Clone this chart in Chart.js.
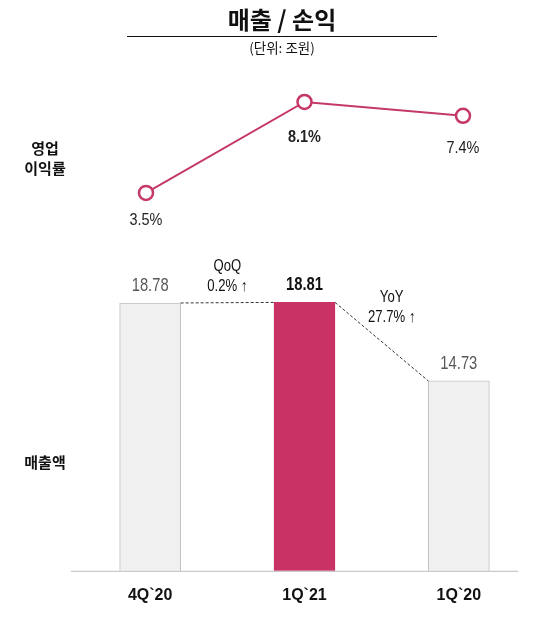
<!DOCTYPE html>
<html>
<head>
<meta charset="utf-8">
<script src="https://cdn.jsdelivr.net/npm/chart.js@4/dist/chart.umd.min.js"></script>
<style>
    body { margin: 0; background: #fff; }
    #wrap { position: relative; width: 540px; height: 624px; overflow: hidden; }
    #chart { position: absolute; left: 0; top: 0; }
    .txt { position: absolute; font-family: "Noto Sans CJK KR", sans-serif; color: #111; white-space: nowrap; }
    #title { left: 0; width: 564px; top: 2px; text-align: center; font-size: 24px; font-weight: 700; line-height: 34px; }
    #rule { position: absolute; left: 127px; top: 36px; width: 310px; height: 0; border-top: 1.5px solid #111; }
    #unit { left: 0; width: 564px; top: 38px; text-align: center; font-size: 13.5px; line-height: 18px; }
    .side { font-size: 15px; font-weight: 700; line-height: 20px; text-align: center; width: 90px; }
</style>
</head>
<body>
<div id="wrap">
    <canvas id="chart" width="540" height="624"></canvas>
    <div class="txt" id="title">매출 / 손익</div>
    <div id="rule"></div>
    <div class="txt" id="unit">(단위: 조원)</div>
    <div class="txt side" style="left:0px; top:138px;">영업<br>이익률</div>
    <div class="txt side" style="left:0px; top:452px;">매출액</div>
</div>
<script>
// data
const categories = ['4Q`20', '1Q`21', '1Q`20'];
const sales = [18.78, 18.81, 14.73];          // 조원
const margins = [3.5, 8.1, 7.4];              // %
const salesLabels = ['18.78', '18.81', '14.73'];
const marginLabels = ['3.5%', '8.1%', '7.4%'];
const highlight = 1;                          // current quarter
const changeNotes = [['QoQ', '0.2% ↑'], ['YoY', '27.7% ↑']];

const numFont = '"Liberation Sans", Arial, sans-serif';
const magenta = '#C83264';
const lineColor = '#C5386A';

// gap under each margin point for its label
const marginGap = [27, 35, 33];

// the source uses a narrow face, squeeze the text a bit
function narrowText(ctx, text, x, y, sx) {
    ctx.save();
    ctx.translate(x, y);
    ctx.scale(sx, 1);
    ctx.fillText(text, 0, 0);
    ctx.restore();
}

const overlay = {
    id: 'overlay',
    afterDatasetsDraw(chart) {
        const ctx = chart.ctx;
        const area = chart.chartArea;
        const bars = chart.getDatasetMeta(0).data;
        const pts = chart.getDatasetMeta(1).data;
        ctx.save();

        // base axis line
        ctx.strokeStyle = '#BDBDBD';
        ctx.lineWidth = 1;
        ctx.beginPath();
        ctx.moveTo(area.left - 2, area.bottom + 0.5);
        ctx.lineTo(area.right - 18, area.bottom + 0.5);
        ctx.stroke();

        // bar value labels
        ctx.textAlign = 'center';
        ctx.textBaseline = 'middle';
        bars.forEach((b, i) => {
            ctx.font = (i === highlight ? 'bold ' : '') + '18px ' + numFont;
            ctx.fillStyle = i === highlight ? '#111' : '#595959';
            narrowText(ctx, salesLabels[i], b.x, b.y - 17, 0.82);
        });

        // margin labels
        pts.forEach((p, i) => {
            ctx.font = (i === highlight ? 'bold ' : '') + '17px ' + numFont;
            ctx.fillStyle = '#222';
            narrowText(ctx, marginLabels[i], p.x, p.y + marginGap[i], 0.85);
        });

        // dashed connectors between bar tops
        ctx.strokeStyle = '#333';
        ctx.setLineDash([3, 2]);
        for (let i = 0; i < bars.length - 1; i++) {
            const a = bars[i], b = bars[i + 1];
            ctx.beginPath();
            ctx.moveTo(a.x + a.width / 2, a.y);
            ctx.lineTo(b.x - b.width / 2, b.y);
            ctx.stroke();
        }
        ctx.setLineDash([]);

        // QoQ / YoY notes
        ctx.font = '16px ' + numFont;
        ctx.fillStyle = '#111';
        changeNotes.forEach((n, i) => {
            const a = bars[i], b = bars[i + 1];
            const mx = (a.x + b.x) / 2 + (i === 0 ? 0 : 10);
            const top = Math.min(a.y, b.y) + (i === 0 ? -36 : -5);
            narrowText(ctx, n[0], mx, top, 0.82);
            narrowText(ctx, n[1], mx, top + 20, 0.82);
        });
        ctx.restore();
    }
};

new Chart(document.getElementById('chart'), {
    type: 'bar',
    data: {
        labels: categories,
        datasets: [{
            data: sales,
            yAxisID: 'y',
            xAxisID: 'x',
            grouped: false,
            backgroundColor: sales.map((v, i) => i === highlight ? magenta : '#F0F0F0'),
            borderColor: sales.map((v, i) => i === highlight ? magenta : '#C2C2C2'),
            borderWidth: 1,
            barThickness: 61,
            order: 2
        }, {
            type: 'line',
            data: margins.map((v, i) => ({ x: i, y: v })),
            yAxisID: 'yl',
            xAxisID: 'xl',
            borderColor: lineColor,
            borderWidth: 2,
            pointRadius: 7,
            pointBorderWidth: 2.5,
            pointBackgroundColor: '#fff',
            pointBorderColor: lineColor,
            tension: 0,
            order: 1
        }]
    },
    options: {
        responsive: false,
        animation: false,
        layout: { autoPadding: false, padding: { left: 73, right: 4, top: 80, bottom: 12 } },
        plugins: { legend: { display: false }, tooltip: { enabled: false } },
        scales: {
            x: {
                grid: { display: false },
                border: { display: false },
                ticks: { color: '#111', padding: 7, font: { family: numFont, size: 16, weight: 'bold' } }
            },
            xl: { type: 'linear', display: false, offset: false, min: -0.4606, max: 2.4606 },
            y: { display: false, min: 4.87, max: 30.36 },
            yl: { display: false, min: -15.61, max: 9.21 }
        }
    },
    plugins: [overlay]
});
</script>
</body>
</html>
